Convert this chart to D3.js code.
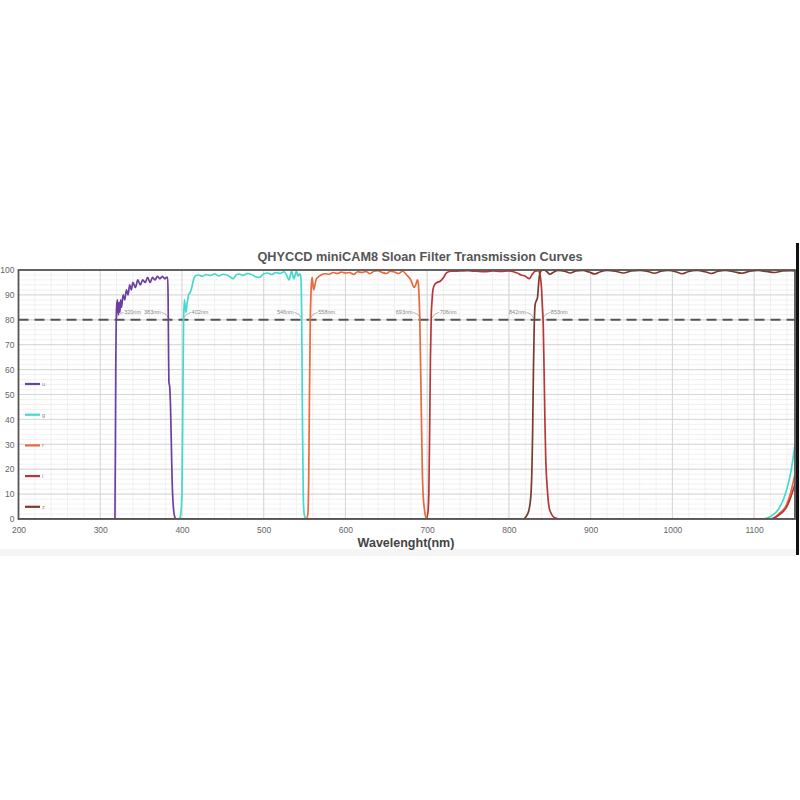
<!DOCTYPE html>
<html><head><meta charset="utf-8">
<script src="https://cdn.jsdelivr.net/npm/d3@7/dist/d3.min.js"></script>
<style>body{margin:0;background:#fff;}svg{display:block;font-family:"Liberation Sans",Arial,sans-serif;}</style>
</head><body><svg id="c" width="800" height="800"></svg>
<script>
// ---------- data ----------
const titleText = "QHYCCD miniCAM8 Sloan Filter Transmission Curves";
const xLabel = "Wavelenght(nm)";
const xTicks = [200,300,400,500,600,700,800,900,1000,1100];
const yTicks = [0,10,20,30,40,50,60,70,80,90,100];
const filterNames = ["u","g","r","i","z"];
const filterColors = ["#6b3fa0","#45d8cf","#e8693d","#b8363a","#7a3a30"];
const refLevel = 80;

const uWave = [200,316,318,319,320,321,322,323,324,325,326,328,330,332,334,336,338,340,343,346,349,352,355,358,361,364,367,370,373,376,379,381,382.5,383,383.5,384,385,386,387,388,389,390,391,393,395,1150];
const uTrans = [0,0,0,60,85,88,82,87,83,88,85,90,88,92,90,94,92,95,93,96,94,96,95,97,95,97,96,97.5,96.5,97.5,96.5,97,97,90,70,55,53,45,30,15,7,3,1,0,0,0];

const gWave = [200,396,398,400,401,402,403,404,405,406,407,408,410,412,414,416,420,425,430,435,440,445,450,455,460,463,466,470,475,480,485,490,495,500,505,510,515,520,525,528,531,534,537,540,542,544,545.5,546.5,547.5,548.5,549.5,551,554,1110,1120,1130,1140,1145,1150];
const gTrans = [0,0,1,10,45,80,88,85,83,86,88,90,91,93,96,97.5,98,97.5,98.2,97.8,98.5,97.6,98.3,98,97,96.5,98,98.4,97.8,98.6,98.2,97.3,97,98.5,98.8,98.2,99,98.6,99.3,98,96,99.5,96.5,99.5,97.5,98.5,97,80,35,8,2,0.5,0,0,1,4,12,19,30];

const rWave = [200,552,554,555,556,557,558,559,560,561,562,564,566,570,575,580,585,590,595,600,605,610,615,620,625,630,635,640,645,650,655,660,665,670,675,680,684,686,688,689,690,691,692,693,694,695,697,699,1120,1130,1140,1145,1150];
const rTrans = [0,0,2,15,50,80,92,97,95,92,93,96,97,98,98.5,98.3,99,98.6,99.2,98.8,99,98.2,99.3,99,99.4,98.5,99.5,99.7,99,98.6,99.5,99.2,98.6,99.5,98,96,93,94,96,95,90,80,60,40,20,10,3,0,0,2,6,11,18];

const iWave = [200,699,701,702,703,704,705,706,707,709,712,716,720,724,730,740,750,760,770,780,790,800,810,815,820,825,828,832,836,838,840,841,842,843,844,845,847,849,852,856,862,1120,1130,1140,1145,1150];
const iTrans = [0,0,3,10,35,65,82,88,92,94,95,95.5,97,99,99.5,99.6,99.7,99.5,99.3,99.6,99.4,99.6,98.8,98,97.5,96.5,98,99.5,99.7,98,92,85,78,60,40,25,12,5,2,0.5,0,0,1.5,5,9,14];

const zWave = [200,818,821,824,827,829,830,831,832,834,835,836,837,839,842,846,850,855,860,868,875,882,890,898,905,912,920,930,940,950,960,970,978,986,995,1005,1012,1020,1030,1040,1048,1056,1065,1075,1085,1095,1105,1115,1125,1135,1145,1150];
const zTrans = [0,0,1,3,10,35,60,78,86,88,89,93,97,99.5,100,99.5,98.3,99.2,99.8,99.5,98.8,99.6,99.8,99.2,98.4,99.3,99.8,99.5,98.8,99.6,99.8,99.4,98.7,99.5,99.8,99.2,98.5,99.4,99.8,99.3,98.6,99.5,99.8,99.3,98.7,99.5,99.8,99.4,99,99.6,99.7,99.6];

const annotTexts = ["320nm","383nm","402nm","546nm","558nm","693nm","706nm","842nm","853nm"];
const annotWave  = [319.5,384,402,546.5,557,692,705.5,830.5,841.5];
const annotSide  = ["right","left","right","left","right","left","right","left","right"];

// ---------- layout ----------
const svg = d3.select("#c");
const M = {left:18.5, right:795, top:270, bottom:519};
const x = d3.scaleLinear().domain([200,1150]).range([M.left, M.right]);
const y = d3.scaleLinear().domain([0,100]).range([M.bottom, M.top]);

// faint band at bottom
svg.append("rect").attr("x",0).attr("y",549).attr("width",796).attr("height",7).attr("fill","#f5f5f5");

// grid
const g = svg.append("g");
g.selectAll("line.vmin").data(d3.range(200,1151,20)).join("line")
  .attr("x1",d=>x(d)).attr("x2",d=>x(d)).attr("y1",M.top).attr("y2",M.bottom)
  .attr("stroke","#eeeeee").attr("stroke-width",0.8);
g.selectAll("line.hmin").data(d3.range(0,101,2)).join("line")
  .attr("y1",d=>y(d)).attr("y2",d=>y(d)).attr("x1",M.left).attr("x2",M.right)
  .attr("stroke","#eeeeee").attr("stroke-width",0.8);
g.selectAll("line.vmaj").data(xTicks).join("line")
  .attr("x1",d=>x(d)).attr("x2",d=>x(d)).attr("y1",M.top).attr("y2",M.bottom)
  .attr("stroke","#d6d6d6").attr("stroke-width",1);
g.selectAll("line.hmaj").data(yTicks).join("line")
  .attr("y1",d=>y(d)).attr("y2",d=>y(d)).attr("x1",M.left).attr("x2",M.right)
  .attr("stroke","#d6d6d6").attr("stroke-width",1);

// reference dashed line
svg.append("line").attr("x1",M.left).attr("x2",M.right).attr("y1",y(refLevel)).attr("y2",y(refLevel))
  .attr("stroke","#555").attr("stroke-width",2).attr("stroke-dasharray","10,6");

// annotations
const ann = svg.append("g");
annotTexts.forEach((t,i)=>{
  const ax = x(annotWave[i]), ay = y(refLevel)-1.5;
  const right = annotSide[i]==="right";
  const tx = right ? ax+8 : ax-8;
  ann.append("path")
    .attr("d", right ? `M${ax},${ay} Q${ax+2},${ay-5} ${tx-0.5},${ay-6}` : `M${ax},${ay} Q${ax-2},${ay-5} ${tx+0.5},${ay-6}`)
    .attr("fill","none").attr("stroke","#999").attr("stroke-width",0.7);
  ann.append("text").attr("x",tx).attr("y",ay-4.5)
    .attr("text-anchor", right ? "start":"end")
    .attr("font-size",5.5).attr("fill","#888").text(t);
});

// curves
svg.append("clipPath").attr("id","clip").append("rect")
  .attr("x",M.left).attr("y",M.top-2).attr("width",M.right-M.left).attr("height",M.bottom-M.top+2);
const waves = [uWave,gWave,rWave,iWave,zWave];
const trans = [uTrans,gTrans,rTrans,iTrans,zTrans];
const line = d3.line().x(d=>x(d[0])).y(d=>y(d[1])).curve(d3.curveMonotoneX);
const cg = svg.append("g").attr("clip-path","url(#clip)");
filterNames.forEach((n,k)=>{
  const pts = waves[k].map((w,j)=>[w,trans[k][j]]);
  cg.append("path").datum(pts).attr("d",line)
    .attr("fill","none").attr("stroke",filterColors[k]).attr("stroke-width",1.7)
    .attr("stroke-linejoin","round");
});

// frame
svg.append("rect").attr("x",M.left).attr("y",M.top).attr("width",M.right-M.left).attr("height",M.bottom-M.top)
  .attr("fill","none").attr("stroke","#555").attr("stroke-width",1.8);

// axes
const xa = svg.append("g").attr("transform",`translate(0,${M.bottom})`)
  .call(d3.axisBottom(x).tickValues(xTicks).tickSize(0).tickPadding(8).tickFormat(d3.format("d")));
const ya = svg.append("g").attr("transform",`translate(${M.left},0)`)
  .call(d3.axisLeft(y).tickValues(yTicks).tickSize(0).tickPadding(4).tickFormat(d3.format("d")));
[xa,ya].forEach(a=>{
  a.select(".domain").remove();
  a.selectAll("text").attr("font-size",8.5).attr("fill","#666").attr("font-family","Liberation Sans, Arial, sans-serif");
});

// legend
const lg = svg.append("g");
filterNames.forEach((n,k)=>{
  const ly = 384 + k*30.7;
  lg.append("line").attr("x1",25).attr("x2",40).attr("y1",ly).attr("y2",ly)
    .attr("stroke",filterColors[k]).attr("stroke-width",2.2);
  lg.append("text").attr("x",42).attr("y",ly+2).attr("font-size",5.5).attr("fill","#888").text(n);
});

// title and x label
svg.append("text").attr("x",420).attr("y",261).attr("text-anchor","middle")
  .attr("font-size",12.7).attr("font-weight","bold").attr("fill","#555").text(titleText);
svg.append("text").attr("x",406).attr("y",547).attr("text-anchor","middle")
  .attr("font-size",12.5).attr("font-weight","bold").attr("fill","#444").text(xLabel);

// right edge dark bar
svg.append("rect").attr("x",796).attr("y",243).attr("width",3).attr("height",312).attr("fill","#111");
</script></body></html>
